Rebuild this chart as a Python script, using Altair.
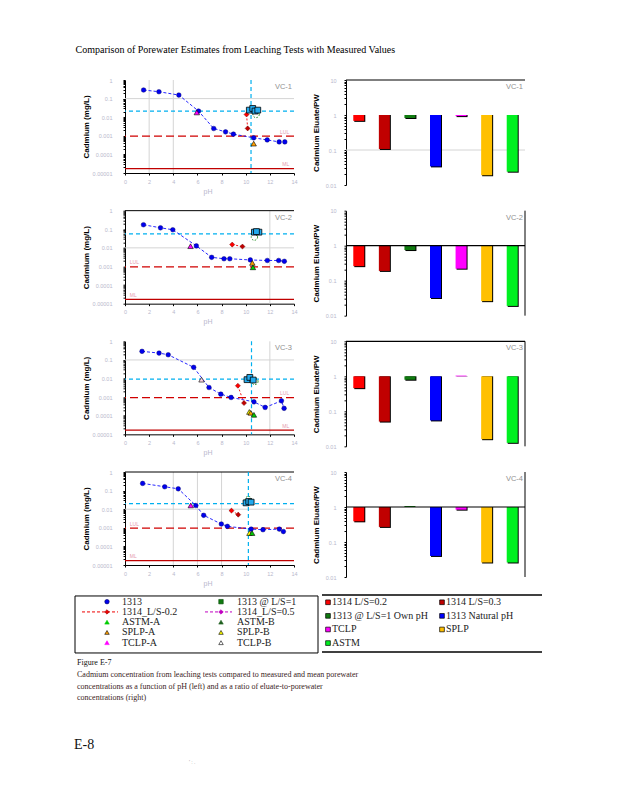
import altair as alt
import pandas as pd

# ------------------------------------------------------------------ data
PANELS = ["VC-1", "VC-2", "VC-3", "VC-4"]

# EPA 1313 (pH-dependence) eluate concentrations (pH, mg/L)
PH_1313 = [
    [1.54, 2.81, 4.46, 6.09, 7.35, 8.33, 8.98, 10.66, 11.78, 12.77, 13.24],
    [1.53, 2.94, 3.96, 5.91, 7.18, 8.20, 8.68, 10.38, 11.79, 12.73, 13.20],
    [1.41, 2.82, 3.58, 5.69, 6.96, 7.94, 8.79, 10.68, 11.61, 12.96, 13.18],
    [1.46, 3.29, 4.41, 5.87, 6.52, 7.98, 8.48, 10.45, 11.43, 12.78, 13.12],
]
CD_1313 = [
    [0.29, 0.234, 0.155, 0.0213, 0.00246, 0.00163, 0.00123, 0.00078, 0.00060, 0.00047, 0.00047],
    [0.175, 0.12, 0.094, 0.0128, 0.0031, 0.0026, 0.0026, 0.00224, 0.0021, 0.0021, 0.0019],
    [0.29, 0.234, 0.19, 0.040, 0.0033, 0.00145, 0.00096, 0.00056, 0.00028, 0.00063, 0.00025],
    [0.244, 0.161, 0.125, 0.0158, 0.0047, 0.0016, 0.0012, 0.00085, 0.00079, 0.00085, 0.00063],
]

# EPA 1314 (column) results
LS_1314 = ["1314 L/S=0.2", "1314 L/S=0.3"]
LS_1314_COLORS = ["#ff0000", "#c00000"]
PH_1314 = [[10.07, 10.16], [8.88, 9.73], [9.35, 9.86], [8.82, 9.38]]
CD_1314 = [[0.014, 0.0025], [0.015, 0.0118], [0.0041, 0.00048], [0.0084, 0.0051]]

# measured porewater samples
PH_PW = [[10.30, 10.58, 10.77, 11.00], [10.72, 11.09, 10.89], [10.11, 10.34, 10.62], [10.03, 10.25, 10.45]]
CD_PW = [[0.024, 0.0295, 0.0214, 0.024], [0.070, 0.070, 0.075], [0.0087, 0.0115, 0.0083], [0.022, 0.026, 0.024]]

# 1313 @ L/S=1
PH_LS1 = [10.86, 10.72, 10.76, 10.22]
CD_LS1 = [0.014, 0.038, 0.007, 0.033]

# single-point leaching tests
TRI_TESTS = ["ASTM-A", "ASTM-B", "SPLP-A", "SPLP-B", "TCLP-A", "TCLP-B"]
TRI_COLORS = ["#00cc00", "#1f5f1f", "#ffa000", "#ffff00", "#ff00ff", "#ffd6e4"]
TRI_TEST = [["TCLP-A", "SPLP-A"], ["TCLP-A", "SPLP-A", "ASTM-A"],
            ["TCLP-B", "SPLP-B", "SPLP-A", "ASTM-A"], ["TCLP-A", "SPLP-B", "ASTM-A"]]
TRI_PH = [[5.95, 10.66], [5.43, 10.55, 10.60], [6.34, 10.30, 10.42, 10.68], [5.45, 10.31, 10.53]]
TRI_CD = [[0.018, 0.00038], [0.0123, 0.00155, 0.0009],
          [0.0087, 0.00016, 0.000144, 0.000112], [0.016, 0.00052, 0.00052]]

# reference levels
MEAN_PW = [0.021, 0.057, 0.0094, 0.020]
PW_PH = [10.44, None, 10.48, 10.22]
LUL = 0.00095
ML = 1.7e-5
REF_LABELS = ["LUL", "ML"]
REF_LABEL_PH = [13.6, 0.4, 13.6, 0.4]
GRID_PH = [[2, 4], [12], [12], [4, 6, 8]]
GRID_CD = [[0.1], [0.01], [0.1], [0.01]]

# eluate / porewater ratios
BAR_TESTS = ["1314 L/S=0.2", "1314 L/S=0.3", "1313 @ L/S=1 Own pH", "1313 Natural pH",
             "TCLP", "SPLP", "ASTM"]
BAR_COLORS = ["#ff0000", "#c00000", "#107a10", "#0000ff", "#ff00ff", "#ffc000", "#00f020"]
RATIO = [
    [0.68, 0.107, 0.82, 0.034, 0.93, 0.019, 0.024],
    [0.26, 0.19, 0.75, 0.032, 0.22, 0.026, 0.019],
    [0.46, 0.051, 0.80, 0.055, 1.05, 0.016, 0.0126],
    [0.39, 0.27, 1.07, 0.040, 0.84, 0.026, 0.026],
]
RIGHT_GRID = [[0.1], [], [], []]

# legends / text
LEG_L_LABELS = [["1313", "1314_L/S-0.2", "ASTM-A", "SPLP-A", "TCLP-A"],
                ["1313 @ L/S=1", "1314_L/S=0.5", "ASTM-B", "SPLP-B", "TCLP-B"]]
LEG_L_SHAPES = [["circle", "diamond", "triangle-up", "triangle-up", "triangle-up"],
                ["square", "diamond", "triangle-up", "triangle-up", "triangle-up"]]
LEG_L_FILLS = [["#0000ee", "#ee0000", "#00cc00", "#ffa000", "#ff00ff"],
               ["#107a10", "#c000c0", "#1f5f1f", "#ffff00", "#ffffff"]]
LEG_L_STROKES = [["#000060", "#900000", "#00cc00", "#000000", "#ff00ff"],
                 ["#0a4a0a", "#c000c0", "#1f5f1f", "#000000", "#000000"]]
LEG_L_LINE_COLORS = ["#ee0000", "#c000c0"]

TITLE = "Comparison of Porewater Estimates from Leaching Tests with Measured Values"
CAPTION = [
    "Figure E-7",
    "Cadmium concentration from leaching tests compared to measured and mean porewater",
    "concentrations as a function of pH (left) and as a ratio of eluate-to-porewater",
    "concentrations (right)",
]
PAGE = "E-8"
FOOT_MARK = "'  :  ."

# ------------------------------------------------------------------ style
SANS = "Liberation Sans"
SERIF = "Liberation Serif"
FAINT = "#b8b8cc"
W_L, H_L = 169, 93
W_R, H_R = 179, 105
ROW_GAP = 25.67
COL_GAP = 52

DEC_EXPR = ("abs(log(datum.value)/LN10 - round(log(datum.value)/LN10)) < 0.01 "
            "? format(datum.value, '~g') : ''")
LEFT_TICKS = [m * 10.0 ** e for e in range(-5, 0) for m in range(1, 10)] + [1.0]
RIGHT_TICKS = [m * 10.0 ** e for e in range(-2, 1) for m in range(1, 10)] + [10.0]

XAX_L = alt.Axis(values=list(range(0, 15, 2)), title="pH", titleX=W_L / 2 - 2, titleY=14,
                 titleColor=FAINT, titleFontWeight="normal", titleFontSize=7, titleFont=SANS,
                 labelColor=FAINT, labelFontSize=5.5, labelFont=SANS, labelPadding=4,
                 tickSize=2, tickColor="black", domainColor="black", grid=False,
                 labelFlush=False, labelOverlap=False)
YAX_L = alt.Axis(values=LEFT_TICKS, labelExpr=DEC_EXPR, title="Cadmium (mg/L)",
                 titleX=-35, titleY=H_L / 2, titleFont=SANS, titleFontSize=8,
                 titleFontWeight="bold", titleColor="black", labelColor=FAINT,
                 labelFontSize=5.5, labelFont=SANS, labelPadding=11, tickSize=2,
                 tickColor="black", domainColor="black", grid=False, labelOverlap=False,
                 labelFlush=False, labelBound=False)
YAX_R = alt.Axis(values=RIGHT_TICKS, labelExpr=DEC_EXPR, title="Cadmium Eluate/PW",
                 titleX=-26, titleY=H_R / 2, titleFont=SANS, titleFontSize=8,
                 titleFontWeight="bold", titleColor="black", labelColor=FAINT,
                 labelFontSize=5.5, labelFont=SANS, labelPadding=8, tickSize=2,
                 tickColor="black", domainColor="black", grid=False, labelOverlap=False,
                 labelFlush=False, labelBound=False)


def left_panel(i):
    X = alt.X("ph:Q", scale=alt.Scale(domain=[0, 14], nice=False, zero=False), axis=XAX_L)
    Y = alt.Y("cd:Q", scale=alt.Scale(type="log", domain=[1e-5, 1], nice=False), axis=YAX_L)
    L = []
    if GRID_PH[i]:
        L.append(alt.Chart(pd.DataFrame({"ph": GRID_PH[i]}))
                 .mark_rule(color="#d4d4d4", strokeWidth=1).encode(x=X))
    if GRID_CD[i]:
        L.append(alt.Chart(pd.DataFrame({"cd": GRID_CD[i]}))
                 .mark_rule(color="#d4d4d4", strokeWidth=1).encode(y=Y))
    if i in (1, 3):
        L.append(alt.Chart(pd.DataFrame({"cd": [1.0]}))
                 .mark_rule(color="black", strokeWidth=1).encode(y=Y))
    L.append(alt.Chart(pd.DataFrame({"cd": [MEAN_PW[i]]}))
             .mark_rule(color="#00b0f0", strokeDash=[4, 3], strokeWidth=1.2).encode(y=Y))
    if PW_PH[i] is not None:
        L.append(alt.Chart(pd.DataFrame({"ph": [PW_PH[i]]}))
                 .mark_rule(color="#00b0f0", strokeDash=[4, 3], strokeWidth=1.2).encode(x=X))
    L.append(alt.Chart(pd.DataFrame({"cd": [LUL]}))
             .mark_rule(color="#d00000", strokeDash=[8, 4], strokeWidth=1.3).encode(y=Y))
    L.append(alt.Chart(pd.DataFrame({"cd": [ML]}))
             .mark_rule(color="#c00000", strokeWidth=1.2).encode(y=Y))
    d1313 = pd.DataFrame({"ph": PH_1313[i], "cd": CD_1313[i]})
    L.append(alt.Chart(d1313).mark_line(color="#1010ff", strokeDash=[3, 2], strokeWidth=0.9)
             .encode(x=X, y=Y, order="ph:Q"))
    d1314 = pd.DataFrame({"ph": PH_1314[i], "cd": CD_1314[i], "c": LS_1314_COLORS})
    L.append(alt.Chart(d1314).mark_line(color="#ee0000", strokeDash=[2, 2], strokeWidth=0.9)
             .encode(x=X, y=Y))
    L.append(alt.Chart(d1313).mark_point(shape="circle", filled=True, size=22, color="#0000ee",
                                          stroke="#000060", strokeWidth=0.4, opacity=1)
             .encode(x=X, y=Y))
    L.append(alt.Chart(d1314).mark_point(shape="diamond", filled=True, size=26, opacity=1,
                                          stroke="#600000", strokeWidth=0.4)
             .encode(x=X, y=Y, fill=alt.Fill("c:N", scale=None)))
    dtri = pd.DataFrame({"ph": TRI_PH[i], "cd": TRI_CD[i], "test": TRI_TEST[i]})
    L.append(alt.Chart(dtri).mark_point(shape="triangle-up", filled=True, size=30, opacity=1,
                                         stroke="black", strokeWidth=0.6)
             .encode(x=X, y=Y, fill=alt.Fill("test:N", scale=alt.Scale(domain=TRI_TESTS,
                                                                       range=TRI_COLORS),
                                             legend=None)))
    L.append(alt.Chart(pd.DataFrame({"ph": [PH_LS1[i]], "cd": [CD_LS1[i]]}))
             .mark_point(shape="circle", filled=False, size=40, color="#1a8a1a",
                         strokeDash=[1.5, 1.5], strokeWidth=1, opacity=1)
             .encode(x=X, y=Y))
    L.append(alt.Chart(pd.DataFrame({"ph": PH_PW[i], "cd": CD_PW[i]}))
             .mark_point(shape="square", filled=True, size=34, fill="#22aaee", stroke="black",
                         strokeWidth=0.8, opacity=1)
             .encode(x=X, y=Y))
    side_right = REF_LABEL_PH[i] > 7
    L.append(alt.Chart(pd.DataFrame({"ph": [REF_LABEL_PH[i]] * 2, "cd": [LUL, ML],
                                     "t": REF_LABELS}))
             .mark_text(align="right" if side_right else "left", baseline="bottom", dy=-1.5,
                        fontSize=5, font=SANS, color="#e59aae")
             .encode(x=X, y=Y, text="t:N"))
    L.append(alt.Chart(pd.DataFrame({"ph": [14.0], "cd": [1.0], "t": [PANELS[i]]}))
             .mark_text(align="right", baseline="top", dx=-2, dy=3, fontSize=7.5, font=SANS,
                        color="#909090")
             .encode(x=X, y=Y, text="t:N"))
    return alt.layer(*L).properties(width=W_L, height=H_L)


def right_panel(i):
    XB = alt.X("test:N", scale=alt.Scale(domain=BAR_TESTS, paddingInner=0, paddingOuter=0),
               axis=None)
    YB = alt.Y("ratio:Q", scale=alt.Scale(type="log", domain=[0.01, 10], nice=False),
               axis=YAX_R)
    df = pd.DataFrame({"test": BAR_TESTS, "ratio": RATIO[i]})
    L = []
    if RIGHT_GRID[i]:
        L.append(alt.Chart(pd.DataFrame({"ratio": RIGHT_GRID[i]}))
                 .mark_rule(color="#d4d4d4", strokeWidth=1).encode(y=YB))
    L.append(alt.Chart(df).mark_bar(size=11, color="black", xOffset=1, yOffset=1)
             .encode(x=XB, y=YB, y2=alt.datum(1)))
    L.append(alt.Chart(df).mark_bar(size=11)
             .encode(x=XB, y=YB, y2=alt.datum(1),
                     color=alt.Color("test:N", scale=alt.Scale(domain=BAR_TESTS,
                                                               range=BAR_COLORS),
                                     legend=None)))
    base_level = 10.0 if i in (0, 2) else 1.0
    L.append(alt.Chart(pd.DataFrame({"ratio": [base_level]}))
             .mark_rule(color="black", strokeWidth=1.2).encode(y=YB))
    if i > 0:
        L.append(alt.Chart(pd.DataFrame({"t": [PANELS[i]]})).mark_rule(color="black", strokeWidth=1)
                 .encode(x=alt.value(W_R), y=alt.value(0), y2=alt.value(H_R)))
    L.append(alt.Chart(pd.DataFrame({"t": [PANELS[i]]}))
             .mark_text(align="right", baseline="top", fontSize=7.5, font=SANS, color="#909090")
             .encode(x=alt.value(W_R - 2), y=alt.value(3), text="t:N"))
    return alt.layer(*L).properties(width=W_R, height=H_R)


# ------------------------------------------------------------------ bottom area
# bottom row origin: left column at page (123, ~602.7); right column at (344, ~602.7)
PX = alt.X("px:Q", scale=None, axis=None)
PY = alt.Y("py:Q", scale=None, axis=None)


def bottom_left():
    rows = []
    for c in range(2):
        for r in range(5):
            rows.append({"label": LEG_L_LABELS[c][r], "shape": LEG_L_SHAPES[c][r],
                         "fill": LEG_L_FILLS[c][r], "stroke": LEG_L_STROKES[c][r],
                         "mx": [-18, 96][c], "px": [-3, 112][c], "py": -1.0 + 10.25 * r})
    df = pd.DataFrame(rows)
    box = (alt.Chart(pd.DataFrame({"t": ["box"]}))
           .mark_rect(fill="transparent", stroke="black", strokeWidth=1)
           .encode(x=alt.value(-50), x2=alt.value(193), y=alt.value(-6.7), y2=alt.value(50.3)))
    lines = pd.DataFrame({"px": [-43, 80], "px2": [-7, 107], "py": [9.25, 9.25],
                          "c": LEG_L_LINE_COLORS})
    ln = (alt.Chart(lines).mark_rule(strokeDash=[3, 2], strokeWidth=1)
          .encode(x=PX, x2="px2:Q", y=PY, color=alt.Color("c:N", scale=None)))
    pts = (alt.Chart(df).mark_point(filled=True, size=20, strokeWidth=0.6, opacity=1)
           .encode(x=alt.X("mx:Q", scale=None, axis=None), y=PY,
                   shape=alt.Shape("shape:N", scale=None), fill=alt.Fill("fill:N", scale=None),
                   stroke=alt.Stroke("stroke:N", scale=None)))
    txt = (alt.Chart(df).mark_text(align="left", baseline="middle", font=SERIF, fontSize=10,
                                   color="#222222")
           .encode(x=PX, y=PY, text="label:N"))
    cap = pd.DataFrame({"t": CAPTION, "px": [-48] * len(CAPTION),
                        "py": [60.5 + 11.7 * k for k in range(len(CAPTION))],
                        "c": ["#111111"] + ["#3a1c1c"] * (len(CAPTION) - 1)})
    captxt = (alt.Chart(cap).mark_text(align="left", baseline="middle", font=SERIF, fontSize=8)
              .encode(x=PX, y=PY, text="t:N", color=alt.Color("c:N", scale=None)))
    page = (alt.Chart(pd.DataFrame({"t": [PAGE], "px": [-51], "py": [142.5]}))
            .mark_text(align="left", baseline="middle", font=SERIF, fontSize=14, color="#111111")
            .encode(x=PX, y=PY, text="t:N"))
    foot = (alt.Chart(pd.DataFrame({"t": [FOOT_MARK], "px": [64], "py": [159]}))
            .mark_text(align="left", baseline="middle", font=SANS, fontSize=5, color="#999999")
            .encode(x=PX, y=PY, text="t:N"))
    return alt.layer(box, ln, pts, txt, captxt, page, foot).properties(width=W_L, height=150)


def bottom_right():
    df = pd.DataFrame({"label": BAR_TESTS, "color": BAR_COLORS})
    df["mx"] = [[-18, 96][k % 2] for k in range(len(BAR_TESTS))]
    df["px"] = [[-14, 100][k % 2] for k in range(len(BAR_TESTS))]
    df["py"] = [-0.4 + 13.6 * (k // 2) for k in range(len(BAR_TESTS))]
    pts = (alt.Chart(df).mark_point(shape="square", filled=True, size=22, stroke="black",
                                    strokeWidth=0.7, opacity=1)
           .encode(x=alt.X("mx:Q", scale=None, axis=None), y=PY,
                   fill=alt.Fill("color:N", scale=None)))
    txt = (alt.Chart(df).mark_text(align="left", baseline="middle", font=SERIF, fontSize=10,
                                   color="#222222")
           .encode(x=PX, y=PY, text="label:N"))
    border = pd.DataFrame({"t": ["b"]})
    top = (alt.Chart(border).mark_rule(color="black", strokeWidth=1.5)
           .encode(x=alt.value(-24), x2=alt.value(196), y=alt.value(-7.7)))
    bot = (alt.Chart(border).mark_rule(color="black", strokeWidth=1.5)
           .encode(x=alt.value(-24), x2=alt.value(196), y=alt.value(49.3)))
    return alt.layer(top, bot, pts, txt).properties(width=W_R, height=57)


cells = []
for i in range(4):
    cells += [left_panel(i), right_panel(i)]
cells += [bottom_left(), bottom_right()]

chart = alt.concat(
    *cells, columns=2, spacing={"row": ROW_GAP, "column": COL_GAP},
    bounds="flush", align="each",
).properties(
    title=alt.TitleParams(text=TITLE, anchor="start", font=SERIF, fontSize=10,
                          fontWeight="normal", color="black", dx=2, offset=23),
    padding={"left": 65, "top": 36, "right": 5, "bottom": 5},
).configure_view(stroke="transparent")

chart.save("out.html", embed_options={"renderer": "svg", "actions": False})
